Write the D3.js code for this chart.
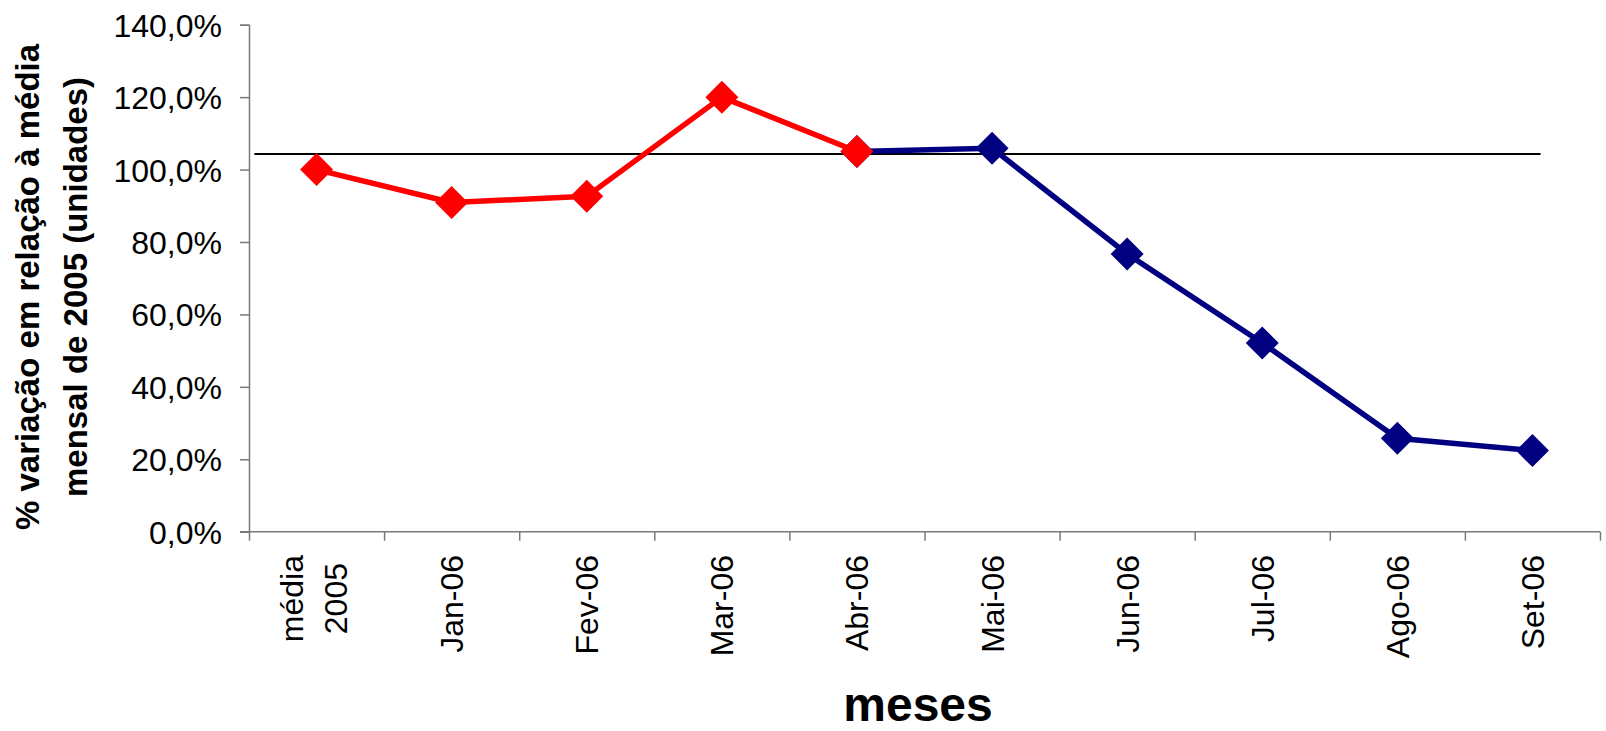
<!DOCTYPE html>
<html><head><meta charset="utf-8">
<script src="https://cdn.jsdelivr.net/npm/d3@7/dist/d3.min.js"></script>
<style>
html,body{margin:0;padding:0;background:#fff;}
svg{display:block;}
text{font-family:"Liberation Sans", Arial, sans-serif;fill:#000;}
</style></head><body>
<svg id="chart" width="1606" height="731"></svg>
<script>
// ---- data ----
const categories = [["média","2005"],["Jan-06"],["Fev-06"],["Mar-06"],["Abr-06"],["Mai-06"],["Jun-06"],["Jul-06"],["Ago-06"],["Set-06"]];
const values = [100.0, 90.9, 92.6, 120.0, 105.0, 105.9, 76.7, 52.1, 25.8, 22.4];
const redIdx = [0,1,2,3,4];
const navyIdx = [4,5,6,7,8,9];
const yTicks = [0,20,40,60,80,100,120,140];
const refValue = 104.3;           // horizontal reference line value
const refFrom = 0.04, refTo = 9.56; // in category units
const yTitle = ["% variação em relação à média","mensal de 2005 (unidades)"];
const xTitle = "meses";

// ---- layout ----
const L = 249, R = 1600, T = 24.7, B = 531.7;
const svg = d3.select("#chart");
const n = categories.length;
const xb = d3.scaleLinear().domain([0, n]).range([L, R]);      // boundaries
const xc = i => xb(i + 0.5);                                     // centers
const y = d3.scaleLinear().domain([0, 140]).range([B, T]);
const fmt = v => d3.format(".1f")(v).replace(".", ",") + "%";

// y axis
const yAxis = d3.axisLeft(y).tickValues(yTicks).tickSize(9).tickPadding(18).tickFormat(fmt);
const gy = svg.append("g").attr("transform", `translate(${L},0)`).call(yAxis);
gy.select(".domain").attr("stroke", "#7a7a7a").attr("stroke-width", 1.5);
gy.selectAll(".tick line").attr("stroke", "#7a7a7a").attr("stroke-width", 1.5);
gy.selectAll(".tick text").attr("font-size", 32).attr("font-family", "Liberation Sans, Arial, sans-serif").attr("dy", "0.36em").attr("fill","#000");

// x axis (ticks at boundaries)
const xAxis = d3.axisBottom(xb).tickValues(d3.range(0, n + 1)).tickSize(9).tickFormat("");
const gx = svg.append("g").attr("transform", `translate(0,${B})`).call(xAxis);
gx.select(".domain").attr("stroke", "#7a7a7a").attr("stroke-width", 1.5).attr("d", `M${L - 9},0H${R}`);
gx.selectAll(".tick line").attr("stroke", "#7a7a7a").attr("stroke-width", 1.5);

// x category labels
const labTop = 555;
categories.forEach((lines, i) => {
  if (lines.length === 1) {
    svg.append("text").text(lines[0])
      .attr("font-size", 32).attr("text-anchor", "end").attr("dy", "0.36em")
      .attr("transform", `translate(${xc(i)},${labTop}) rotate(-90)`);
  } else {
    const gap = 44;
    const tmp = lines.map((t, k) => svg.append("text").text(t).attr("font-size", 32).attr("text-anchor", "middle").attr("dy", "0.36em"));
    const maxLen = d3.max(tmp, t => t.node().getComputedTextLength());
    tmp.forEach((t, k) => {
      const off = (k - (lines.length - 1) / 2) * gap - 3;
      t.attr("transform", `translate(${xc(i) + off},${labTop + maxLen / 2}) rotate(-90)`);
    });
  }
});

// reference line
svg.append("line")
  .attr("x1", xb(refFrom)).attr("x2", xb(refTo))
  .attr("y1", y(refValue)).attr("y2", y(refValue))
  .attr("stroke", "#000").attr("stroke-width", 2);

// series
const line = d3.line().x(i => xc(i)).y(i => y(values[i]));
const diamond = (cx, cy, r) => `M${cx},${cy - r}L${cx + r},${cy}L${cx},${cy + r}L${cx - r},${cy}Z`;
function drawSeries(idx, color) {
  svg.append("path").attr("d", line(idx)).attr("fill", "none")
    .attr("stroke", color).attr("stroke-width", 5.5).attr("stroke-linejoin", "round");
  svg.append("g").selectAll("path").data(idx).join("path")
    .attr("d", i => diamond(xc(i), y(values[i]), 16.5)).attr("fill", color);
}
drawSeries(navyIdx, "#000080");
drawSeries(redIdx, "#ff0000");

// y title
const yt = svg.append("text").attr("font-weight", "bold").attr("font-size", 33)
  .attr("text-anchor", "middle").attr("transform", `translate(0,287) rotate(-90)`);
yt.append("tspan").attr("x", 0).attr("y", 39).text(yTitle[0]);
yt.append("tspan").attr("x", 0).attr("y", 87).text(yTitle[1]);

// x title
svg.append("text").text(xTitle)
  .attr("x", 918).attr("y", 721).attr("text-anchor", "middle")
  .attr("font-size", 48).attr("font-weight", "bold")
  .style("font-family", "'Liberation Sans Narrow','Arial Narrow',sans-serif");
</script>
</body></html>
